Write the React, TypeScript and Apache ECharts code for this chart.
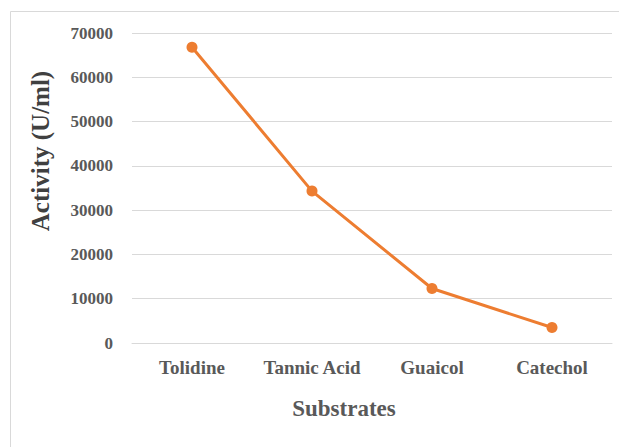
import React, { useEffect, useRef } from "react";
import * as echarts from "echarts";

const substrates = ["Tolidine", "Tannic Acid", "Guaicol", "Catechol"];
const activity = [66800, 34300, 12300, 3500];
const yTicks = { min: 0, max: 70000, interval: 10000 };
const yTitle = "Activity (U/ml)";
const xTitle = "Substrates";

const FONT = "'Liberation Serif', 'Times New Roman', serif";
const ORANGE = "#ED7D31";
const GRID = "#D9D9D9";
const LABEL = "#595959";

export default function App() {
  const ref = useRef<HTMLDivElement>(null);

  useEffect(() => {
    document.body.style.margin = "0";
    if (!ref.current) return;
    const chart = echarts.init(ref.current, null, { renderer: "svg" });
    chart.setOption({
      animation: false,
      backgroundColor: "#ffffff",
      grid: { left: 132, right: 7, top: 33, bottom: 104, containLabel: false },
      xAxis: {
        type: "category",
        data: substrates,
        boundaryGap: true,
        axisLine: { show: true, lineStyle: { color: GRID, width: 1 } },
        axisTick: { show: false },
        axisLabel: {
          interval: 0,
          margin: 15,
          color: LABEL,
          fontFamily: FONT,
          fontWeight: "bold",
          fontSize: 19,
        },
      },
      yAxis: {
        type: "value",
        min: yTicks.min,
        max: yTicks.max,
        interval: yTicks.interval,
        axisLine: { show: false },
        axisTick: { show: false },
        splitLine: { show: true, lineStyle: { color: GRID, width: 1 } },
        axisLabel: {
          margin: 19,
          color: LABEL,
          fontFamily: FONT,
          fontWeight: "bold",
          fontSize: 17,
          formatter: (v: number) => String(v),
        },
      },
      series: [
        {
          type: "line",
          data: activity,
          smooth: false,
          symbol: "circle",
          symbolSize: 11,
          lineStyle: { color: ORANGE, width: 3 },
          itemStyle: { color: ORANGE },
        },
      ],
      graphic: [
        {
          type: "rect",
          silent: true,
          z: -1,
          shape: { x: 10.5, y: 11.5, width: 1000, height: 1000 },
          style: { fill: "none", stroke: GRID, lineWidth: 1 },
        },
        {
          type: "text",
          x: 40,
          y: 151,
          rotation: Math.PI / 2,
          style: {
            text: yTitle,
            fill: "#404040",
            font: `bold 25px ${FONT}`,
            textAlign: "center",
            textVerticalAlign: "middle",
          },
        },
        {
          type: "text",
          x: 344,
          y: 408,
          style: {
            text: xTitle,
            fill: LABEL,
            font: `bold 23px ${FONT}`,
            textAlign: "center",
            textVerticalAlign: "middle",
          },
        },
      ],
    });
    return () => chart.dispose();
  }, []);

  return <div ref={ref} style={{ width: 619, height: 447 }} />;
}
